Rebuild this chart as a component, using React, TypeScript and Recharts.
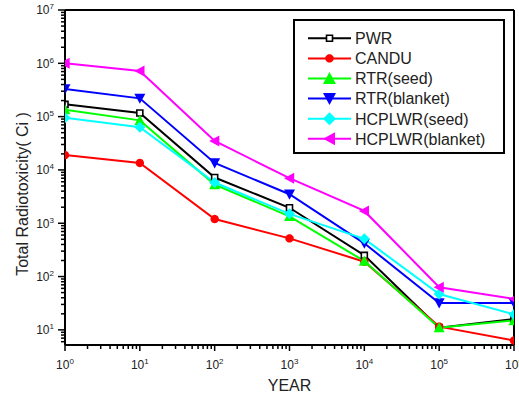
import React from "react";
import { LineChart, Line, XAxis, YAxis, Legend, ReferenceLine } from "recharts";

const YEARS = [1, 10, 100, 1000, 10000, 100000, 1000000];
const PWR = [170000, 117000, 7200, 1950, 250, 11, 16];
const CANDU = [19000, 13500, 1200, 520, 190, 11.5, 6.3];
const RTR_SEED = [135000, 85000, 5300, 1350, 195, 11, 15];
const RTR_BLANKET = [330000, 220000, 13500, 3500, 420, 32, 32];
const HCPLWR_SEED = [95000, 63000, 5800, 1500, 510, 47, 19.5];
const HCPLWR_BLANKET = [1000000, 720000, 35000, 7000, 1700, 63, 38];

const X_DECADES = [1, 10, 100, 1000, 10000, 100000, 1000000];
const Y_DECADES = [10, 100, 1000, 10000, 100000, 1000000, 10000000];
const Y_MIN = 5.2;
const Y_MAX = 10000000;

const FONT = "'Liberation Sans', Arial, sans-serif";
const MULT = [1, 2, 3, 4, 5, 6, 7, 8, 9];

// plot area edges in px (left axis width 65, right axis width 5)
const PLOT_LEFT = 65;
const PLOT_RIGHT = 514;

const xTicks = X_DECADES.flatMap((d, i) =>
  i === X_DECADES.length - 1 ? [d] : MULT.map((m) => d * m)
);
const yTicks = [1, ...Y_DECADES]
  .flatMap((d) => MULT.map((m) => d * m))
  .filter((v) => v >= Y_MIN && v <= Y_MAX);

const SERIES = [
  { key: "PWR", color: "#000000", shape: "square", values: PWR },
  { key: "CANDU", color: "#ff0000", shape: "circle", values: CANDU },
  { key: "RTR(seed)", color: "#00ff00", shape: "up", values: RTR_SEED },
  { key: "RTR(blanket)", color: "#0000ff", shape: "down", values: RTR_BLANKET },
  { key: "HCPLWR(seed)", color: "#00ffff", shape: "diamond", values: HCPLWR_SEED },
  { key: "HCPLWR(blanket)", color: "#ff00ff", shape: "left", values: HCPLWR_BLANKET },
];

const rows = YEARS.map((year, i) => {
  const row: Record<string, number> = { year };
  SERIES.forEach((s) => {
    row[s.key] = s.values[i];
  });
  return row;
});

type Pt = [number, number];

// clip a polygon to a vertical band (Sutherland-Hodgman, two edges)
function clipBand(pts: Pt[], lo: number, hi: number): Pt[] {
  const clipEdge = (input: Pt[], inside: (p: Pt) => boolean, xEdge: number) => {
    const out: Pt[] = [];
    for (let i = 0; i < input.length; i++) {
      const a = input[i];
      const b = input[(i + 1) % input.length];
      const ain = inside(a);
      const bin = inside(b);
      if (ain) out.push(a);
      if (ain !== bin) {
        const t = (xEdge - a[0]) / (b[0] - a[0]);
        out.push([xEdge, a[1] + t * (b[1] - a[1])]);
      }
    }
    return out;
  };
  let res = clipEdge(pts, (p) => p[0] >= lo, lo);
  if (res.length) res = clipEdge(res, (p) => p[0] <= hi, hi);
  return res;
}

function shapePoints(shape: string, cx: number, cy: number, s: number): Pt[] {
  const h = s / 2;
  switch (shape) {
    case "square":
      return [[cx - 3, cy - 3], [cx + 3, cy - 3], [cx + 3, cy + 3], [cx - 3, cy + 3]];
    case "circle":
      return Array.from({ length: 24 }, (_, k) => {
        const a = (k / 24) * Math.PI * 2;
        return [cx + 4.2 * Math.cos(a), cy + 4.2 * Math.sin(a)] as Pt;
      });
    case "up":
      return [[cx, cy - h], [cx + h, cy + h * 0.85], [cx - h, cy + h * 0.85]];
    case "down":
      return [[cx, cy + h], [cx + h, cy - h * 0.85], [cx - h, cy - h * 0.85]];
    case "diamond":
      return [[cx, cy - h], [cx + h, cy], [cx, cy + h], [cx - h, cy]];
    case "left":
      return [[cx - h, cy], [cx + h * 0.85, cy - h], [cx + h * 0.85, cy + h]];
    default:
      return [];
  }
}

function Marker({ cx, cy, shape, color, s = 11, lo = -Infinity, hi = Infinity }: any) {
  const pts = clipBand(shapePoints(shape, cx, cy, s), lo, hi);
  if (!pts.length) return null;
  const points = pts.map((p) => `${p[0]},${p[1]}`).join(" ");
  if (shape === "square") {
    return <polygon points={points} fill="#fff" stroke={color} strokeWidth={1.6} />;
  }
  return <polygon points={points} fill={color} />;
}

const isDecade = (list: number[], v: number) => list.includes(v);

function XTick({ x, y, payload }: any) {
  const v = payload.value;
  const major = isDecade(X_DECADES, v);
  return (
    <g>
      <line x1={x} y1={y} x2={x} y2={y + (major ? 6 : 4)} stroke="#000" strokeWidth={1.5} />
      {major && (
        <text x={x} y={y + 23.5} textAnchor="middle" fontSize={12} fill="#222" fontFamily={FONT}>
          10<tspan dy={-5} fontSize={8}>{Math.round(Math.log10(v))}</tspan>
        </text>
      )}
    </g>
  );
}

function YTick({ x, y, payload }: any) {
  const v = payload.value;
  const major = isDecade(Y_DECADES, v);
  return (
    <g>
      <line x1={x} y1={y} x2={x - (major ? 7 : 4)} y2={y} stroke="#000" strokeWidth={1.5} />
      {major && (
        <text x={x - 11} y={y + 4.3} textAnchor="end" fontSize={12} fill="#222" fontFamily={FONT}>
          10<tspan dy={-5} fontSize={8}>{Math.round(Math.log10(v))}</tspan>
        </text>
      )}
    </g>
  );
}

function RightTick({ x, y, payload }: any) {
  const major = isDecade(Y_DECADES, payload.value);
  return <line x1={x} y1={y} x2={x + (major ? 7 : 4)} y2={y} stroke="#000" strokeWidth={1.5} />;
}

function LegendBox() {
  return (
    <div
      style={{
        width: 212,
        height: 135,
        boxSizing: "border-box",
        border: "2px solid #000",
        background: "#fff",
      }}
    >
      <svg width={208} height={131}>
        {SERIES.map((s, i) => {
          const cy = 17.3 + i * 20.1;
          return (
            <g key={s.key}>
              <line x1={13} y1={cy} x2={56} y2={cy} stroke={s.color} strokeWidth={2} />
              <Marker cx={34.5} cy={cy} shape={s.shape} color={s.color} s={13} />
              <text x={60} y={cy + 5.8} fontSize={16} fill="#222" fontFamily={FONT}>
                {s.key}
              </text>
            </g>
          );
        })}
      </svg>
    </div>
  );
}

export default function App() {
  return (
    <div style={{ position: "absolute", left: 0, top: 0, fontFamily: FONT }}>
      <LineChart width={519} height={398} data={rows} margin={{ top: 10, right: 0, bottom: 0, left: 0 }}>
        <XAxis
          dataKey="year"
          type="number"
          scale="log"
          domain={[1, 1000000]}
          ticks={xTicks}
          interval={0}
          allowDataOverflow
          tickLine={false}
          tickSize={0}
          tickMargin={0}
          tick={<XTick />}
          axisLine={{ stroke: "#000", strokeWidth: 2 }}
          height={53}
          label={{ value: "YEAR", position: "insideBottom", offset: 7, fill: "#222", fontSize: 16 }}
        />
        <YAxis
          type="number"
          scale="log"
          domain={[Y_MIN, Y_MAX]}
          ticks={yTicks}
          interval={0}
          allowDataOverflow
          tickLine={false}
          tickSize={0}
          tickMargin={0}
          tick={<YTick />}
          axisLine={{ stroke: "#000", strokeWidth: 2 }}
          width={65}
          label={() => (
            <text
              x={22.5}
              y={194}
              transform="rotate(-90 22.5 194)"
              textAnchor="middle"
              dominantBaseline="central"
              fontSize={16}
              fill="#222"
              fontFamily={FONT}
            >
              Total Radiotoxicity( Ci )
            </text>
          )}
        />
        <YAxis
          yAxisId="r"
          orientation="right"
          type="number"
          scale="log"
          domain={[Y_MIN, Y_MAX]}
          ticks={yTicks}
          interval={0}
          tickLine={false}
          tickSize={0}
          tickMargin={0}
          tick={<RightTick />}
          axisLine={{ stroke: "#000", strokeWidth: 2 }}
          width={5}
        />
        <ReferenceLine y={Y_MAX} stroke="#000" strokeWidth={2} />
        {SERIES.map((s) => (
          <Line
            key={s.key}
            dataKey={s.key}
            type="linear"
            stroke={s.color}
            strokeWidth={2}
            isAnimationActive={false}
            dot={(p: any) => (
              <Marker
                key={`${s.key}-${p.index}`}
                cx={p.cx}
                cy={p.cy}
                shape={s.shape}
                color={s.color}
                lo={PLOT_LEFT}
                hi={PLOT_RIGHT}
              />
            )}
            activeDot={false}
          />
        ))}
        <Legend
          layout="vertical"
          align="center"
          verticalAlign="middle"
          content={() => <LegendBox />}
          wrapperStyle={{ position: "absolute", left: 293, top: 19, width: 212, height: 135 }}
        />
      </LineChart>
    </div>
  );
}
